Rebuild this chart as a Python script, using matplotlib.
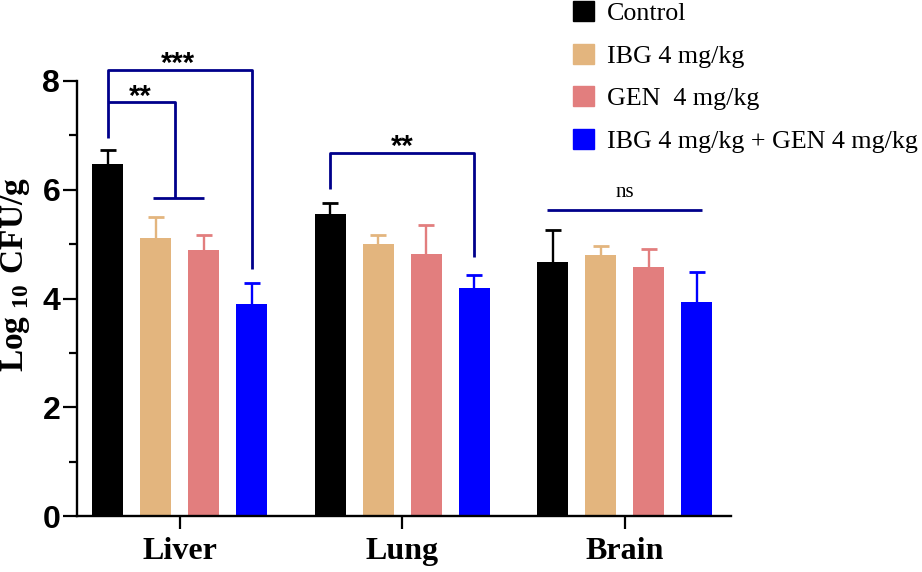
import matplotlib
matplotlib.use("Agg")
import matplotlib.pyplot as plt
from matplotlib.patches import Patch
import numpy as np

categories = ["Liver", "Lung", "Brain"]
series = ["Control", "IBG 4 mg/kg", "GEN  4 mg/kg", "IBG 4 mg/kg + GEN 4 mg/kg"]
colors = ["#000000", "#E3B57E", "#E27E7E", "#0000FF"]

means = {
    "Control":                    [6.48, 5.56, 4.67],
    "IBG 4 mg/kg":                [5.12, 5.00, 4.80],
    "GEN  4 mg/kg":               [4.89, 4.82, 4.58],
    "IBG 4 mg/kg + GEN 4 mg/kg":  [3.89, 4.20, 3.94],
}
upper = {
    "Control":                    [6.74, 5.75, 5.26],
    "IBG 4 mg/kg":                [5.50, 5.17, 4.97],
    "GEN  4 mg/kg":               [5.17, 5.35, 4.91],
    "IBG 4 mg/kg + GEN 4 mg/kg":  [4.28, 4.44, 4.49],
}
yticks = [0, 2, 4, 6, 8]

plt.rcParams['mathtext.fontset'] = 'custom'
plt.rcParams['mathtext.bf'] = 'Liberation Serif:bold'
plt.rcParams['mathtext.rm'] = 'Liberation Serif'

fig = plt.figure(figsize=(9.22, 5.72), dpi=100)
ax = fig.add_axes([77/922, 1-516/572, (730.7-77)/922, 435/572])

x = np.arange(len(categories))
step = 0.2157
width = 0.139
bracket_color = "#00008B"

for i, s in enumerate(series):
    xs = x + (i - 1.5) * step
    m = np.array(means[s])
    u = np.array(upper[s])
    ax.bar(xs, m, width=width, color=colors[i], linewidth=0, zorder=2)
    ax.errorbar(xs, m, yerr=u - m, fmt='none', ecolor=colors[i],
                elinewidth=1.7, capsize=5.8, capthick=2.0, zorder=1)

ax.set_xlim(-0.461, 2.477)
ax.set_ylim(0, 8)
ax.set_yticks(yticks)
ax.set_yticks([1, 3, 5, 7], minor=True)
ax.set_yticklabels([str(t) for t in yticks], fontfamily="Liberation Sans", fontweight="bold", fontsize=23)
ax.set_xticks(x)
ax.set_xticklabels(categories, fontfamily="Liberation Serif", fontweight="bold", fontsize=23)

for sp in ["top", "right"]:
    ax.spines[sp].set_visible(False)
for sp in ["left", "bottom"]:
    ax.spines[sp].set_linewidth(1.7)
ax.tick_params(axis='y', which='major', length=10, width=1.6, pad=2)
ax.tick_params(axis='y', which='minor', length=5.8, width=1.6)
ax.tick_params(axis='x', which='major', length=9.4, width=1.6, pad=6)

fig.text(16/922, 1-275/572, r'$\mathbf{Log}_{\ \mathbf{10}}\ \mathbf{CFU/g}$', rotation=90,
         ha='center', va='center', fontsize=24)

def bline(xx, yy):
    ax.plot(xx, yy, color=bracket_color, lw=2.0, clip_on=False, solid_capstyle='butt', zorder=3)

c0 = x[0] - 1.5 * step
c3 = x[0] + 1.5 * step
# Liver outer bracket (***)
bline([c0, c0, c3, c3], [6.96, 8.21, 8.21, 4.54])
# Liver inner bracket (**)
mid = x[0] - 0.02
bline([c0, mid, mid], [7.61, 7.61, 5.85])
bline([x[0] - 0.5 * step - 0.01, x[0] + 0.5 * step], [5.85, 5.85])
star_kw = dict(ha='center', va='center', fontsize=21, fontweight='bold',
               fontfamily="Liberation Sans", clip_on=False)
ax.text(x[0] - 0.008, 8.32, "***", **star_kw)
ax.text(x[0] - 0.178, 7.70, "**", **star_kw)
# Lung bracket
l0 = x[1] - 1.5 * step
l3 = x[1] + 1.5 * step
bline([l0, l0, l3, l3], [6.02, 6.68, 6.68, 4.77])
ax.text(x[1], 6.78, "**", **star_kw)
# Brain ns
bline([x[2] - 0.348, x[2] + 0.348], [5.625, 5.625])
ax.text(x[2], 5.95, "ns", ha='center', va='center', fontsize=15, fontfamily="Liberation Serif",
        clip_on=False)

handles = [Patch(facecolor=c, edgecolor=c) for c in colors]
leg = fig.legend(handles, series, loc='upper left', bbox_to_anchor=(573/922, 1 - 1/572),
                 frameon=False, prop={'family': 'Liberation Serif', 'size': 18.7},
                 handlelength=0.8, handleheight=0.8, handletextpad=0.5,
                 labelspacing=0.72, borderpad=0, borderaxespad=0)

fig.savefig("out.png", dpi=100)
